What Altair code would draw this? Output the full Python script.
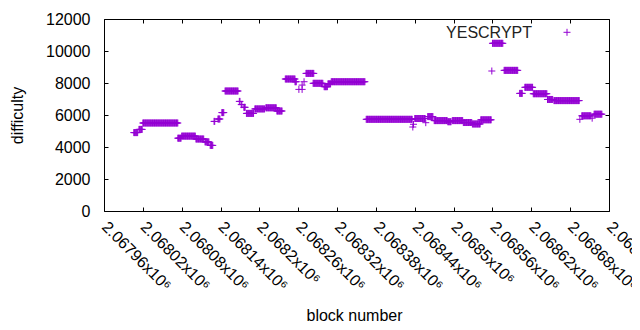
import altair as alt
import pandas as pd

# Runs of constant difficulty: first block, last block, difficulty
run_start = [2068006, 2068014, 2068020, 2068074, 2068080, 2068102, 2068116, 2068124,
             2068130, 2068136, 2068142, 2068147, 2068169, 2068172, 2068176, 2068180,
             2068193, 2068210, 2068227, 2068240, 2068255, 2068266, 2068261, 2068266,
             2068269, 2068272, 2068283, 2068300, 2068306, 2068311, 2068365, 2068437,
             2068438, 2068440, 2068457, 2068460, 2068470, 2068491, 2068498, 2068515,
             2068529, 2068542, 2068559, 2068560, 2068578, 2068602, 2068610, 2068623,
             2068645, 2068655, 2068695, 2068698, 2068714, 2068717]
run_end = [2068012, 2068019, 2068074, 2068079, 2068101, 2068114, 2068122, 2068128,
           2068131, 2068139, 2068145, 2068167, 2068170, 2068173, 2068178, 2068191,
           2068208, 2068226, 2068235, 2068255, 2068257, 2068266, 2068261, 2068266,
           2068269, 2068284, 2068298, 2068305, 2068310, 2068363, 2068436, 2068437,
           2068438, 2068456, 2068457, 2068468, 2068490, 2068496, 2068514, 2068528,
           2068541, 2068558, 2068559, 2068576, 2068599, 2068606, 2068622, 2068644,
           2068653, 2068694, 2068695, 2068712, 2068714, 2068729]
run_value = [4900, 5100, 5500, 4550, 4680, 4500, 4320, 4100,
             5600, 5750, 6150, 7500, 6850, 6650, 6480, 6100,
             6380, 6450, 6250, 8250, 8080, 7600, 7600, 7870,
             8080, 8600, 7980, 7770, 7950, 8080, 5730, 5250,
             5420, 5780, 5520, 5900, 5650, 5580, 5650, 5530,
             5440, 5700, 8750, 10480, 8790, 7350, 7730, 7330,
             6970, 6900, 5730, 5950, 5800, 6050]

x_tick_values = [2067960, 2068020, 2068080, 2068140, 2068200, 2068260, 2068320,
                 2068380, 2068440, 2068500, 2068560, 2068620, 2068680, 2068740]
x_tick_labels = ["2.06796x10⁶", "2.06802x10⁶", "2.06808x10⁶", "2.06814x10⁶",
                 "2.0682x10⁶", "2.06826x10⁶", "2.06832x10⁶", "2.06838x10⁶",
                 "2.06844x10⁶", "2.0685x10⁶", "2.06856x10⁶", "2.06862x10⁶",
                 "2.06868x10⁶", "2.06874x10⁶"]
y_tick_values = [0, 2000, 4000, 6000, 8000, 10000, 12000]
series_name = "YESCRYPT"

rows = []
for s, e, v in zip(run_start, run_end, run_value):
    for b in range(s, e + 1):
        rows.append({"block": b, "difficulty": v})
df = pd.DataFrame(rows)

W, H = 505, 192
COLOR = "#9400D3"
FONT = "Liberation Sans"
PLUS = "M-1,0L1,0M0,-1L0,1"

label_expr = ("[" + ",".join("'%s'" % t for t in x_tick_labels) + "][indexof(["
              + ",".join(str(v) for v in x_tick_values) + "], datum.value)]")

xscale = alt.Scale(domain=[x_tick_values[0], x_tick_values[-1]], nice=False, zero=False)
yscale = alt.Scale(domain=[y_tick_values[0], y_tick_values[-1]], nice=False)

common = dict(labelFont=FONT, labelFontSize=16, labelColor="black",
              titleFont=FONT, titleFontSize=16, titleColor="black",
              titleFontWeight="normal", grid=False, domain=False)

points = alt.Chart(df).mark_point(
    shape=PLUS, size=49, filled=False, color=COLOR, strokeWidth=1, opacity=1
).encode(
    x=alt.X("block:Q", scale=xscale, axis=alt.Axis(
        values=x_tick_values, labelExpr=label_expr, labelAngle=45,
        labelAlign="left", labelBaseline="middle", ticks=False, tickSize=0,
        labelPadding=13, labelFlush=False, labelOverlap=False, labelBound=False,
        title="block number", titleX=250, titleY=104, titleAlign="center",
        titleBaseline="middle", **common)),
    y=alt.Y("difficulty:Q", scale=yscale, axis=alt.Axis(
        values=y_tick_values, format="d", ticks=False, tickSize=0, labelPadding=14,
        labelFlush=False, labelOverlap=False,
        title="difficulty", titleX=-87, titleY=96, titleAngle=270,
        titleAlign="center", titleBaseline="middle", **common)),
)

tick_axis = dict(labels=False, title=None, domain=False, grid=False, tickSize=4,
                 tickColor="black", tickWidth=1, offset=-4)

ticks_bl = alt.Chart(df).mark_point(opacity=0).encode(
    x=alt.X("block:Q", scale=xscale, axis=alt.Axis(orient="bottom", values=x_tick_values, **tick_axis)),
    y=alt.Y("difficulty:Q", scale=yscale, axis=alt.Axis(orient="left", values=y_tick_values, **tick_axis)),
)
ticks_tr = alt.Chart(df).mark_point(opacity=0).encode(
    x=alt.X("block:Q", scale=xscale, axis=alt.Axis(orient="top", values=x_tick_values, **tick_axis)),
    y=alt.Y("difficulty:Q", scale=yscale, axis=alt.Axis(orient="right", values=y_tick_values, **tick_axis)),
)

legend_df = pd.DataFrame({"label": [series_name]})
legend_text = alt.Chart(legend_df).mark_text(
    font=FONT, fontSize=16, color="#222222", align="right", baseline="alphabetic"
).encode(x=alt.value(428), y=alt.value(18.5), text="label:N")
legend_mark = alt.Chart(legend_df).mark_point(
    shape=PLUS, size=49, filled=False, color=COLOR, strokeWidth=1, opacity=1
).encode(x=alt.value(463), y=alt.value(13.3))

chart = alt.layer(points, ticks_bl, ticks_tr, legend_text, legend_mark).resolve_axis(
    x="independent", y="independent"
).properties(
    width=W, height=H,
    autosize=alt.AutoSizeParams(type="none"),
    padding={"left": 96, "top": 11, "right": 23, "bottom": 110},
).configure_view(stroke="black", strokeWidth=1)

chart.save("out.html", embed_options={"renderer": "svg", "actions": False})
